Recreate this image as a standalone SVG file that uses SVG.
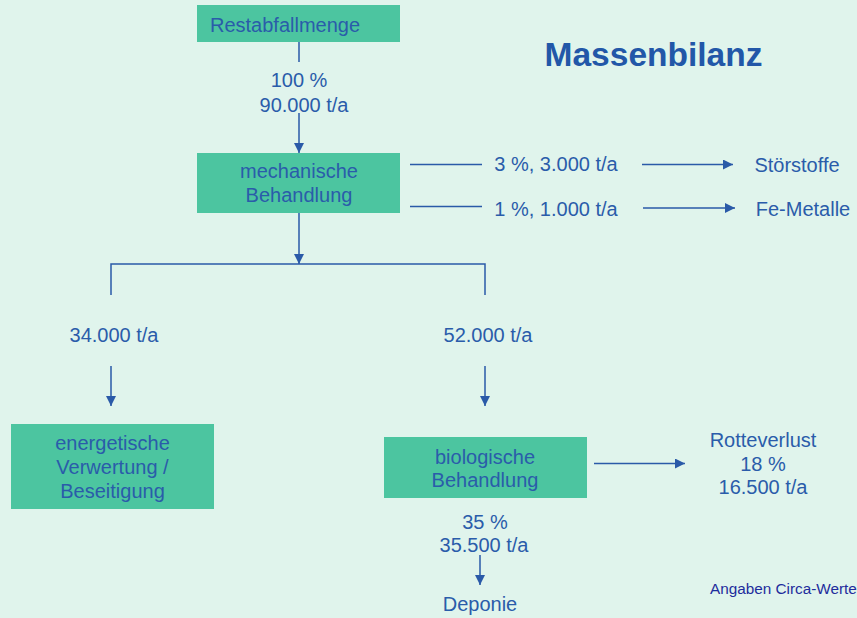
<svg xmlns="http://www.w3.org/2000/svg" width="857" height="618" viewBox="0 0 857 618">
<style>
.bg{fill:#E0F4EC}
.box{fill:#4CC5A0}
text{font-family:"Liberation Sans",Arial,sans-serif;font-size:20px;fill:#2A5CAA;text-anchor:middle}
.title{font-size:33.5px;font-weight:bold;fill:#2257A8}
.note{font-size:15.3px;fill:#1E2C9C;text-anchor:start}
.ln{stroke:#2A5AA8;stroke-width:1.5;fill:none}
.ar{marker-end:url(#ah)}
</style>
<defs>
<marker id="ah" markerUnits="userSpaceOnUse" markerWidth="11" markerHeight="10" refX="10" refY="5" orient="auto">
<path d="M0,0 L10,5 L0,10 z" fill="#2A5AA8"/>
</marker>
</defs>
<rect class="bg" x="0" y="0" width="857" height="618"/>
<text class="title" x="653.5" y="66">Massenbilanz</text>
<text class="note" x="710" y="594">Angaben Circa-Werte</text>
<g id="connectors">
<line class="ln" x1="299" y1="42" x2="299" y2="62"/>
<line class="ln ar" x1="299" y1="113" x2="299" y2="153"/>
<line class="ln ar" x1="299" y1="213" x2="299" y2="264"/>
<polyline class="ln" points="111,295 111,264 485,264 485,295"/>
<line class="ln ar" x1="111" y1="366" x2="111" y2="406"/>
<line class="ln ar" x1="485" y1="366" x2="485" y2="406"/>
<line class="ln" x1="410" y1="164.5" x2="482" y2="164.5"/>
<line class="ln" x1="410" y1="206.5" x2="482" y2="206.5"/>
<line class="ln ar" x1="642" y1="164.5" x2="733" y2="164.5"/>
<line class="ln ar" x1="643" y1="208" x2="735" y2="208"/>
<line class="ln ar" x1="594" y1="463.5" x2="685" y2="463.5"/>
<line class="ln ar" x1="480" y1="555" x2="480" y2="585"/>
<text x="299" y="87">100 %</text>
<text x="304" y="112">90.000 t/a</text>
<text x="556" y="171">3 %, 3.000 t/a</text>
<text x="556" y="216">1 %, 1.000 t/a</text>
<text x="114" y="342">34.000 t/a</text>
<text x="488" y="342">52.000 t/a</text>
<text x="485" y="529">35 %</text>
<text x="484" y="552">35.500 t/a</text>
</g>
<g id="restabfallmenge">
<rect class="box" x="197" y="5" width="203" height="37"/>
<text x="285" y="32">Restabfallmenge</text>
</g>
<g id="mechanische">
<rect class="box" x="197" y="153" width="203" height="60"/>
<text x="299" y="178">mechanische</text>
<text x="299" y="202">Behandlung</text>
</g>
<g id="energetische">
<rect class="box" x="11" y="424" width="203" height="85"/>
<text x="112.5" y="450">energetische</text>
<text x="112.5" y="474">Verwertung /</text>
<text x="112.5" y="498">Beseitigung</text>
</g>
<g id="biologische">
<rect class="box" x="384" y="437" width="203" height="61"/>
<text x="485" y="464">biologische</text>
<text x="485" y="487">Behandlung</text>
</g>
<g id="stoerstoffe"><text x="797" y="172">Störstoffe</text></g>
<g id="femetalle"><text x="803" y="216">Fe-Metalle</text></g>
<g id="rotteverlust">
<text x="763" y="447">Rotteverlust</text>
<text x="763" y="471">18 %</text>
<text x="763" y="494">16.500 t/a</text>
</g>
<g id="deponie"><text x="480" y="611">Deponie</text></g>
</svg>
